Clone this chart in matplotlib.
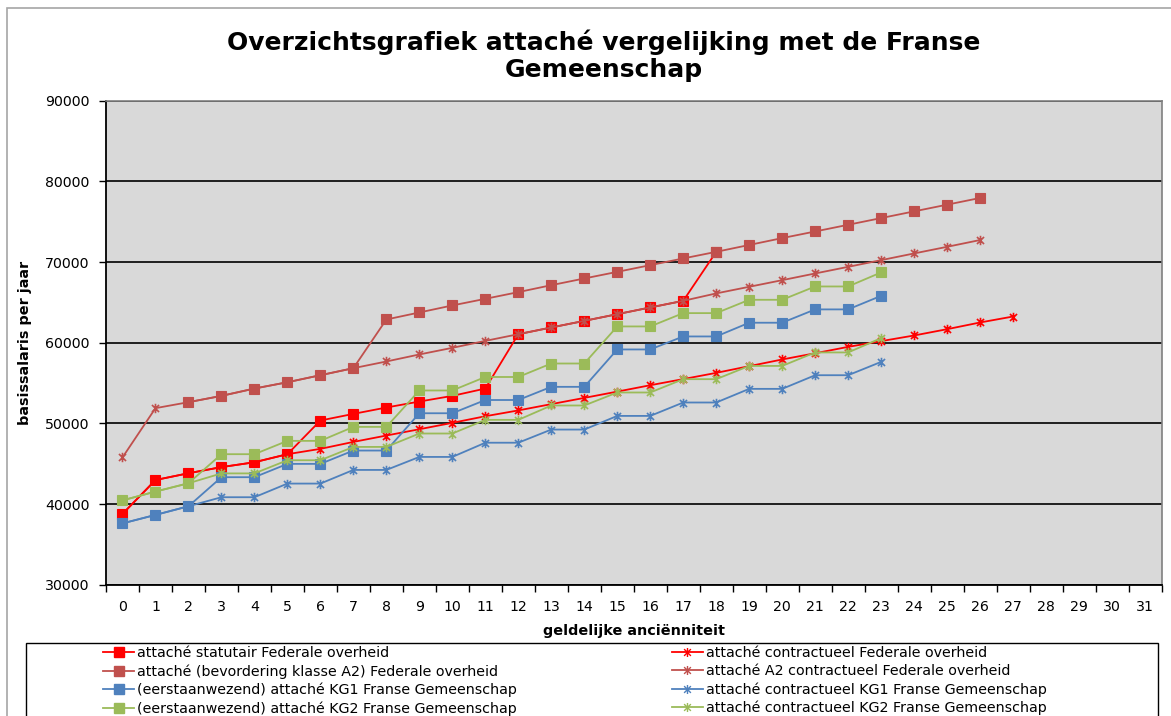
import numpy as np
import matplotlib
matplotlib.use('Agg')
import matplotlib.pyplot as plt
from matplotlib.path import Path
from matplotlib.lines import Line2D
from matplotlib.patches import Rectangle

nan = np.nan

# ---------------- data ----------------
categories = list(range(32))
tick_labels = [str(c) for c in categories]
y_ticks = [30000, 40000, 50000, 60000, 70000, 80000, 90000]

title = "Overzichtsgrafiek attaché vergelijking met de Franse\nGemeenschap"
x_label = "geldelijke anciënniteit"
y_label = "basissalaris per jaar"

names = [
    "attaché statutair Federale overheid",
    "attaché contractueel Federale overheid",
    "attaché (bevordering klasse A2) Federale overheid",
    "attaché A2 contractueel Federale overheid",
    "(eerstaanwezend) attaché KG1 Franse Gemeenschap",
    "attaché contractueel KG1 Franse Gemeenschap",
    "(eerstaanwezend) attaché KG2 Franse Gemeenschap",
    "attaché contractueel KG2 Franse Gemeenschap",
]

statutair_fed = [38800, 43000, 43840, 44600, 45200, 46200, 50370, 51190, 51980, 52720,
                 53420, 54330, 61060, 61890, 62710, 63540, 64370, 65190, 71260]
contractueel_fed = [38800, 43000, 43840, 44600, 45200, 46200, 46860, 47720, 48510, 49290,
                    50080, 50900, 51620, 52400, 53170, 53950, 54740, 55500, 56270, 57100,
                    57930, 58700, 59490, 60200, 60900, 61680, 62510, 63250]
bevordering_a2_fed = [nan, nan, 52640, 53420, 54330, 55110, 55980, 56850, 62880, 63750,
                      64620, 65440, 66270, 67130, 67960, 68780, 69610, 70440, 71260, 72110,
                      72960, 73780, 74610, 75440, 76270, 77100, 77930]
a2_contractueel_fed = [45800, 51900, 52640, 53420, 54330, 55110, 55980, 56850, 57680, 58550,
                       59370, 60230, 61060, 61890, 62710, 63540, 64370, 65190, 66110, 66930,
                       67750, 68580, 69400, 70230, 71060, 71880, 72720]
kg1_fg = [37630, 38680, 39750, 43350, 43350, 45000, 45000, 46650, 46650, 51270,
          51270, 52910, 52910, 54540, 54540, 59170, 59170, 60780, 60780, 62480,
          62480, 64130, 64130, 65810]
kg1_contractueel_fg = [37630, 38680, 39750, 40870, 40870, 42560, 42560, 44250, 44250, 45860,
                       45860, 47620, 47620, 49250, 49250, 50940, 50940, 52600, 52600, 54290,
                       54290, 55980, 55980, 57630]
kg2_fg = [40480, 41570, 42600, 46200, 46200, 47850, 47850, 49580, 49580, 54090,
          54090, 55760, 55760, 57430, 57430, 62020, 62020, 63670, 63670, 65320,
          65320, 66970, 66970, 68710]
kg2_contractueel_fg = [40480, 41570, 42600, 43820, 43820, 45450, 45450, 47100, 47100, 48760,
                       48760, 50450, 50450, 52230, 52230, 53840, 53840, 55490, 55490, 57130,
                       57130, 58800, 58800, 60570]

series = [statutair_fed, contractueel_fed, bevordering_a2_fed, a2_contractueel_fed,
          kg1_fg, kg1_contractueel_fg, kg2_fg, kg2_contractueel_fg]
colors = ['#FF0000', '#FF0000', '#C0504D', '#C0504D',
          '#4F81BD', '#4F81BD', '#9BBB59', '#9BBB59']
kinds = ['s', 'a', 's', 'a', 's', 'a', 's', 'a']

# ---------------- style ----------------
plt.rcParams['font.family'] = ['DejaVu Sans']

# Excel-like asterisk: X plus vertical bar
ast = Path([(0, -1), (0, 1), (-0.75, -0.75), (0.75, 0.75), (-0.75, 0.75), (0.75, -0.75)],
           [Path.MOVETO, Path.LINETO, Path.MOVETO, Path.LINETO, Path.MOVETO, Path.LINETO])

W, H = 1171, 716
fig = plt.figure(figsize=(W / 100, H / 100), dpi=100)
fig.patch.set_facecolor('white')


def fx(px):
    return px / W


def fy(py):
    return 1 - py / H


# chart-area border
fig.add_artist(Rectangle((fx(7), fy(740)), fx(1185) - fx(7), fy(8) - fy(740),
                         transform=fig.transFigure, fill=False, edgecolor='#A6A6A6', lw=1.2))

left, right, top, bottom = 106, 1161.5, 100.5, 585
ax = fig.add_axes([fx(left), fy(bottom), fx(right) - fx(left), fy(top) - fy(bottom)])
ax.set_facecolor('#D9D9D9')
ax.set_axisbelow(True)

handles = []
for vals, col, kind, name in zip(series, colors, kinds, names):
    x = categories[:len(vals)]
    if kind == 's':
        ln, = ax.plot(x, vals, color=col, lw=1.3, marker='s', markersize=6.8,
                      markerfacecolor=col, markeredgecolor=col, markeredgewidth=0.8,
                      label=name, zorder=3)
    else:
        ln, = ax.plot(x, vals, color=col, lw=1.3, marker=ast, markersize=6.8,
                      markeredgecolor=col, markeredgewidth=1.2, label=name, zorder=3)
    handles.append(ln)

ax.set_xlim(-0.5, 31.5)
ax.set_ylim(30000, 90000)
ax.set_yticks(y_ticks)
ax.set_yticklabels([str(v) for v in y_ticks], fontsize=10.2)
ax.yaxis.grid(True, color='black', lw=1.2)
ax.tick_params(axis='y', direction='out', length=5, width=1, pad=7, color='black')

ax.set_xticks(categories)
ax.set_xticklabels(tick_labels, fontsize=10.2)
ax.set_xticks(np.arange(-0.5, 32, 1), minor=True)
ax.tick_params(axis='x', which='major', length=0, pad=10.5)
ax.tick_params(axis='x', which='minor', direction='out', length=5, width=1, color='black')

for s in ['left', 'bottom']:
    ax.spines[s].set_color('black')
    ax.spines[s].set_linewidth(1.3)
for s in ['top', 'right']:
    ax.spines[s].set_color('#808080')
    ax.spines[s].set_linewidth(1.2)

# texts
fig.text(fx(604), fy(56), title, ha='center', va='center', fontsize=18,
         fontweight='bold', linespacing=1.17)
fig.text(fx(634), fy(631), x_label, ha='center', va='center',
         fontsize=10.4, fontweight='bold')
fig.text(fx(25), fy((top + bottom) / 2), y_label, ha='center', va='center',
         fontsize=10.4, fontweight='bold', rotation=90)

# legend frame
fig.add_artist(Rectangle((fx(26), fy(760)), fx(1158) - fx(26), fy(643) - fy(760),
                         transform=fig.transFigure, fill=True, facecolor='white',
                         edgecolor='black', lw=1.0))


def leg_handle(h):
    return Line2D([], [], color=h.get_color(), lw=1.3, marker=h.get_marker(),
                  markersize=6.5, markerfacecolor=h.get_markerfacecolor(),
                  markeredgecolor=h.get_markeredgecolor(), markeredgewidth=1.0)


col1 = [handles[i] for i in (0, 2, 4, 6)]
col2 = [handles[i] for i in (1, 3, 5, 7)]
for hs, xpos in ((col1, 103), (col2, 671.5)):
    lg = fig.legend([leg_handle(h) for h in hs], [h.get_label() for h in hs],
                    loc='upper left', bbox_to_anchor=(fx(xpos), fy(646)),
                    frameon=False, fontsize=10.3, handlelength=2.2, handletextpad=0.2,
                    labelspacing=0.29, borderpad=0, borderaxespad=0)
    lg.set_zorder(5)

fig.savefig('out.png', dpi=100)
